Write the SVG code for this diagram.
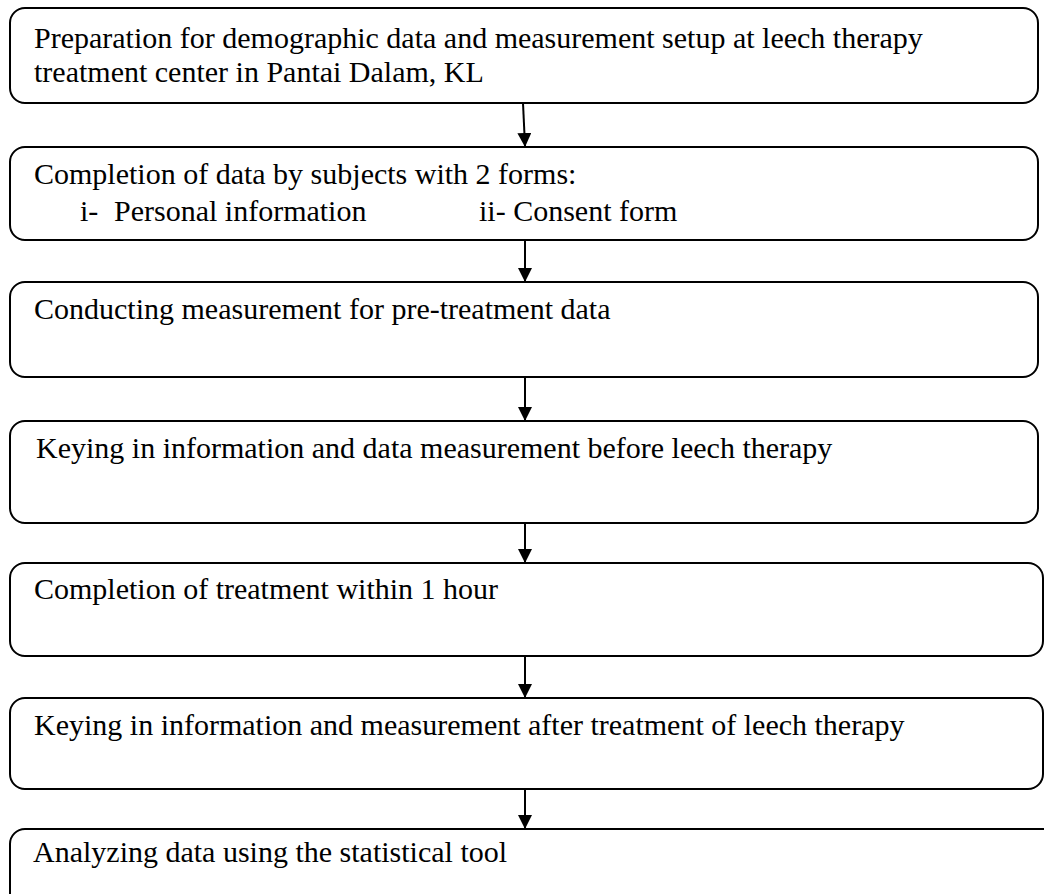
<svg xmlns="http://www.w3.org/2000/svg" width="1044" height="894" viewBox="0 0 1044 894">
<defs>
<style>
.box{fill:#fff;stroke:#000;stroke-width:2}
.t{font-family:"Liberation Serif","Times New Roman",serif;font-size:30px;fill:#000}
.c{stroke:#000;stroke-width:2;fill:none}
</style>
<marker id="ah" markerWidth="14" markerHeight="14" refX="13" refY="7" orient="auto" markerUnits="userSpaceOnUse">
<path d="M0,0 L14,7 L0,14 Z" fill="#000"/>
</marker>
</defs>
<rect width="1044" height="894" fill="#fff"/>
<g id="connectors">
<path class="c" d="M523,103 L525,146" marker-end="url(#ah)"/>
<path class="c" d="M525,240 L525,281" marker-end="url(#ah)"/>
<path class="c" d="M525,377 L525,420" marker-end="url(#ah)"/>
<path class="c" d="M525,523 L525,562" marker-end="url(#ah)"/>
<path class="c" d="M525,656 L525,697" marker-end="url(#ah)"/>
<path class="c" d="M525,789 L525,828" marker-end="url(#ah)"/>
</g>
<g id="n1"><rect class="box" x="10" y="8" width="1028" height="95" rx="15"/>
<text class="t" x="34" y="48">Preparation for demographic data and measurement setup at leech therapy</text>
<text class="t" x="34" y="82">treatment center in Pantai Dalam, KL</text></g>
<g id="n2"><rect class="box" x="10" y="147" width="1028" height="93" rx="15"/>
<text class="t" x="34" y="184">Completion of data by subjects with 2 forms:</text>
<text class="t" x="80" y="221">i-</text>
<text class="t" x="114" y="221">Personal information</text>
<text class="t" x="479" y="221">ii- Consent form</text></g>
<g id="n3"><rect class="box" x="10" y="282" width="1028" height="95" rx="15"/>
<text class="t" x="34" y="319">Conducting measurement for pre-treatment data</text></g>
<g id="n4"><rect class="box" x="10" y="421" width="1028" height="102" rx="15"/>
<text class="t" x="36" y="458">Keying in information and data measurement before leech therapy</text></g>
<g id="n5"><rect class="box" x="10" y="563" width="1033" height="93" rx="15"/>
<text class="t" x="34" y="599">Completion of treatment within 1 hour</text></g>
<g id="n6"><rect class="box" x="10" y="698" width="1033" height="91" rx="15"/>
<text class="t" x="34" y="735">Keying in information and measurement after treatment of leech therapy</text></g>
<g id="n7"><rect class="box" x="10" y="829" width="1050" height="90" rx="15"/>
<text class="t" x="33" y="862">Analyzing data using the statistical tool</text></g>
</svg>
